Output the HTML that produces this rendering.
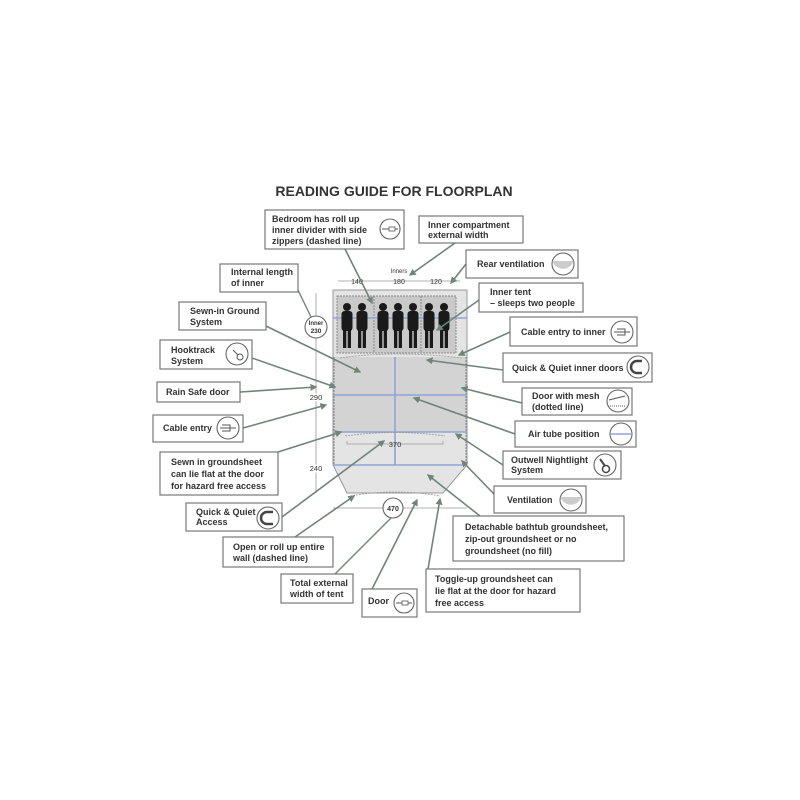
<!DOCTYPE html>
<html><head><meta charset="utf-8"><style>
html,body{margin:0;padding:0;background:#fff}
svg{display:block}
text{font-family:"Liberation Sans",sans-serif;font-weight:bold;fill:#333;font-size:9px}
.b{fill:#fff;stroke:#777;stroke-width:1.2}
.a{stroke:#6f8577;stroke-width:1.6;fill:none;marker-end:url(#m)}
.ic{fill:#fff;stroke:#666;stroke-width:1.1}
.d{stroke:#999;stroke-width:0.8;fill:none}
.bl{stroke:#8fa4d6;stroke-width:1.6}
.p{fill:#1a1a1a}
</style></head><body>
<svg width="800" height="800" viewBox="0 0 800 800">
<defs>
<marker id="m" viewBox="0 0 10 10" refX="8" refY="5" markerWidth="7" markerHeight="7" orient="auto" markerUnits="userSpaceOnUse">
<path d="M0,0 L10,5 L0,10 z" fill="#6f8577"/></marker>
<g id="per"><circle cx="0" cy="307" r="4"/><rect x="-5.5" y="311" width="11" height="20" rx="3"/><rect x="-4" y="329" width="3.3" height="19"/><rect x="0.7" y="329" width="3.3" height="19"/></g>
</defs>
<text x="394" y="196" text-anchor="middle" style="font-size:14px">READING GUIDE FOR FLOORPLAN</text>

<!-- tent -->
<path d="M333,290 H467 V465 L443,493 H347 L333,465 Z" fill="#e4e4e4" stroke="#999"/>
<rect x="334" y="357" width="132" height="75" fill="#d3d3d3"/>
<line x1="334" y1="357" x2="334" y2="465" stroke="#888" stroke-dasharray="2,1"/>
<line x1="466" y1="357" x2="466" y2="465" stroke="#888" stroke-dasharray="2,1"/>
<rect x="337" y="296" width="119" height="57" fill="#c9c9c9" stroke="#888" stroke-dasharray="2,1"/>
<line x1="374" y1="296" x2="374" y2="353" stroke="#888" stroke-dasharray="2,1"/>
<line x1="421" y1="296" x2="421" y2="353" stroke="#888" stroke-dasharray="2,1"/>
<line class="bl" x1="333" y1="318" x2="467" y2="318"/>
<line class="bl" x1="333" y1="395" x2="467" y2="395"/>
<line class="bl" x1="333" y1="432" x2="467" y2="432"/>
<line class="bl" x1="333" y1="465" x2="467" y2="465"/>
<line class="bl" x1="395" y1="357" x2="395" y2="465"/>
<path d="M340,358 Q395,350 462,358" class="d" stroke-dasharray="2,1"/>
<path d="M345,436 Q395,429 445,436" class="d" stroke-dasharray="2,1"/>
<path d="M350,496 Q395,488 440,496" class="d" stroke-dasharray="2,1"/>
<g class="p"><use href="#per" x="347"/><use href="#per" x="362"/><use href="#per" x="383"/><use href="#per" x="398"/><use href="#per" x="413"/><use href="#per" x="429"/><use href="#per" x="444"/></g>

<!-- dims -->
<text x="399" y="273" text-anchor="middle" style="font-size:6px;font-weight:normal">Inners</text>
<line class="d" x1="338" y1="281" x2="460" y2="281"/>
<text x="357" y="284" text-anchor="middle" style="font-size:7px;font-weight:normal">140</text>
<text x="399" y="284" text-anchor="middle" style="font-size:7px;font-weight:normal">180</text>
<text x="436" y="284" text-anchor="middle" style="font-size:7px;font-weight:normal">120</text>
<line class="d" x1="316" y1="293" x2="316" y2="493"/>
<circle cx="316" cy="327" r="11" class="ic"/>
<text x="316" y="325" text-anchor="middle" style="font-size:6px">Inner</text>
<text x="316" y="333" text-anchor="middle" style="font-size:6.5px">230</text>
<text x="316" y="400" text-anchor="middle" style="font-size:7.5px;font-weight:normal;fill:#fff;stroke:#fff;stroke-width:3">290</text>
<text x="316" y="400" text-anchor="middle" style="font-size:7.5px;font-weight:normal">290</text>
<text x="316" y="471" text-anchor="middle" style="font-size:7.5px;font-weight:normal;fill:#fff;stroke:#fff;stroke-width:3">240</text>
<text x="316" y="471" text-anchor="middle" style="font-size:7.5px;font-weight:normal">240</text>
<path class="d" d="M347,441 V444 H443 V441"/>
<text x="395" y="447" text-anchor="middle" style="font-size:7.5px;font-weight:normal">370</text>
<line class="d" x1="333" y1="508" x2="467" y2="508"/>
<circle cx="393" cy="508" r="10" class="ic"/>
<text x="393" y="511" text-anchor="middle" style="font-size:7px">470</text>

<!-- arrows -->
<line class="a" x1="345" y1="249" x2="372" y2="303"/>
<line class="a" x1="455" y1="243" x2="410" y2="275"/>
<line class="a" x1="466" y1="264" x2="451" y2="283"/>
<line class="d" x1="298" y1="290" x2="311" y2="317" style="stroke:#6f8577;stroke-width:1.4"/>
<line class="a" x1="479" y1="300" x2="437" y2="330"/>
<line class="a" x1="266" y1="326" x2="360" y2="372"/>
<line class="a" x1="510" y1="332" x2="459" y2="355"/>
<line class="a" x1="252" y1="358" x2="335" y2="387"/>
<line class="a" x1="503" y1="370" x2="427" y2="360"/>
<line class="a" x1="240" y1="392" x2="316" y2="387"/>
<line class="a" x1="522" y1="403" x2="462" y2="388"/>
<line class="a" x1="243" y1="428" x2="326" y2="405"/>
<line class="a" x1="515" y1="434" x2="414" y2="398"/>
<line class="a" x1="278" y1="452" x2="341" y2="432"/>
<line class="a" x1="503" y1="465" x2="456" y2="434"/>
<line class="a" x1="494" y1="494" x2="462" y2="461"/>
<line class="a" x1="282" y1="517" x2="384" y2="441"/>
<line class="a" x1="480" y1="516" x2="428" y2="475"/>
<line class="a" x1="295" y1="537" x2="354" y2="496"/>
<line class="d" x1="335" y1="574" x2="391" y2="518" style="stroke:#6f8577;stroke-width:1.4"/>
<line class="a" x1="372" y1="589" x2="417" y2="500"/>
<line class="a" x1="428" y1="569" x2="440" y2="499"/>

<!-- boxes -->
<rect class="b" x="265" y="210" width="139" height="39"/>
<text x="272" y="222">Bedroom has roll up</text><text x="272" y="233">inner divider with side</text><text x="272" y="244">zippers (dashed line)</text>
<circle class="ic" cx="390" cy="229" r="10"/><line x1="382" y1="229" x2="398" y2="229" stroke="#555"/><rect x="389" y="227" width="6" height="4" fill="#fff" stroke="#555" stroke-width="0.8"/>

<rect class="b" x="419" y="216" width="104" height="27"/>
<text x="428" y="228">Inner compartment</text><text x="428" y="238">external width</text>

<rect class="b" x="466" y="250" width="112" height="28"/>
<text x="477" y="267">Rear ventilation</text>
<circle class="ic" cx="563" cy="264" r="11"/><path d="M552.5,261 H573.5 A11,11 0 0 1 552.5,261 Z" fill="#ccc"/>

<rect class="b" x="220" y="264" width="78" height="28"/>
<text x="231" y="275">Internal length</text><text x="231" y="286">of inner</text>

<rect class="b" x="479" y="283" width="104" height="29"/>
<text x="490" y="295">Inner tent</text><text x="490" y="306">– sleeps two people</text>

<rect class="b" x="179" y="302" width="87" height="28"/>
<text x="190" y="314">Sewn-in Ground</text><text x="190" y="325">System</text>

<rect class="b" x="510" y="317" width="127" height="29"/>
<text x="521" y="335">Cable entry to inner</text>
<circle class="ic" cx="622" cy="332" r="11"/><path d="M614,332 H630 M617,329 H625 V335 H617" stroke="#555" fill="none"/>

<rect class="b" x="160" y="340" width="92" height="29"/>
<text x="171" y="353">Hooktrack</text><text x="171" y="364">System</text>
<circle class="ic" cx="237" cy="354" r="11"/><circle cx="240" cy="357" r="3" fill="none" stroke="#555"/><line x1="233" y1="350" x2="238" y2="355" stroke="#555"/>

<rect class="b" x="503" y="353" width="149" height="29"/>
<text x="512" y="371">Quick &amp; Quiet inner doors</text>
<circle class="ic" cx="638" cy="367" r="11"/><path d="M642,361 H637 A6,6 0 0 0 637,373 H642" fill="none" stroke="#444" stroke-width="2.5"/>

<rect class="b" x="157" y="382" width="83" height="20"/>
<text x="166" y="395">Rain Safe door</text>

<rect class="b" x="522" y="388" width="110" height="27"/>
<text x="532" y="399">Door with mesh</text><text x="532" y="410">(dotted line)</text>
<circle class="ic" cx="618" cy="401" r="11"/><line x1="610" y1="406" x2="626" y2="406" stroke="#555" stroke-dasharray="1,1"/><path d="M609,400 L625,396" stroke="#555"/>

<rect class="b" x="153" y="415" width="90" height="27"/>
<text x="163" y="431">Cable entry</text>
<circle class="ic" cx="228" cy="428" r="11"/><path d="M220,428 H236 M222,425 H230 V431 H222" stroke="#555" fill="none"/>

<rect class="b" x="515" y="421" width="121" height="26"/>
<text x="528" y="437">Air tube position</text>
<circle class="ic" cx="621" cy="434" r="11"/><line x1="610" y1="434" x2="632" y2="434" stroke="#8fa4d6" stroke-width="1.6"/>

<rect class="b" x="160" y="452" width="118" height="43"/>
<text x="171" y="465">Sewn in groundsheet</text><text x="171" y="477">can lie flat at the door</text><text x="171" y="489">for hazard free access</text>

<rect class="b" x="503" y="451" width="118" height="28"/>
<text x="511" y="463">Outwell Nightlight</text><text x="511" y="473">System</text>
<circle class="ic" cx="605" cy="465" r="11"/><circle cx="606" cy="469" r="3.5" fill="none" stroke="#444" stroke-width="1.5"/><line x1="600" y1="459" x2="605" y2="466" stroke="#444" stroke-width="2"/>

<rect class="b" x="494" y="486" width="92" height="27"/>
<text x="507" y="503">Ventilation</text>
<circle class="ic" cx="571" cy="500" r="11"/><path d="M560.5,497 H581.5 A11,11 0 0 1 560.5,497 Z" fill="#ccc"/>

<rect class="b" x="186" y="503" width="96" height="28"/>
<text x="196" y="515">Quick &amp; Quiet</text><text x="196" y="525">Access</text>
<circle class="ic" cx="268" cy="518" r="11"/><path d="M273,512 H267 A6,6 0 0 0 267,524 H273" fill="none" stroke="#444" stroke-width="2.5"/>

<rect class="b" x="453" y="516" width="171" height="45"/>
<text x="465" y="530">Detachable bathtub groundsheet,</text><text x="465" y="542">zip-out groundsheet or no</text><text x="465" y="554">groundsheet (no fill)</text>

<rect class="b" x="223" y="537" width="110" height="30"/>
<text x="233" y="550">Open or roll up entire</text><text x="233" y="561">wall (dashed line)</text>

<rect class="b" x="426" y="569" width="154" height="43"/>
<text x="435" y="582">Toggle-up groundsheet can</text><text x="435" y="594">lie flat at the door for hazard</text><text x="435" y="606">free access</text>

<rect class="b" x="281" y="574" width="72" height="29"/>
<text x="290" y="586">Total external</text><text x="290" y="597">width of tent</text>

<rect class="b" x="362" y="589" width="55" height="28"/>
<text x="368" y="604">Door</text>
<circle class="ic" cx="404" cy="603" r="10"/><line x1="396" y1="603" x2="412" y2="603" stroke="#555"/><rect x="402" y="601" width="6" height="4" fill="#fff" stroke="#555" stroke-width="0.8"/>
</svg>
</body></html>
